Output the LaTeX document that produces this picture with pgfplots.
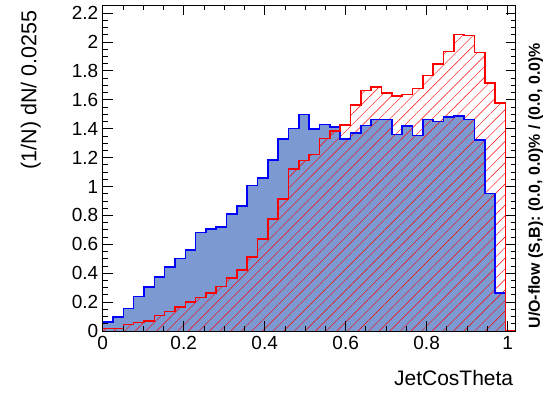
\documentclass[border=0pt]{standalone}
\usepackage{fontspec}
\setmainfont{Liberation Sans}
\usepackage{pgfplots}
\pgfplotsset{compat=1.18}
\usepackage{pgfplotstable}
\usetikzlibrary{patterns.meta}

\definecolor{sigfill}{HTML}{7D99D1}
\definecolor{sigline}{HTML}{0000FF}
\definecolor{bkgline}{HTML}{FF0000}

% Normalised JetCosTheta distributions, 40 bins of width 0.0255 (left edges)
\pgfplotstableread{
x      sig    bkg
0.0000 0.062  0.016
0.0255 0.097  0.016
0.0510 0.157  0.044
0.0765 0.240  0.058
0.1020 0.305  0.069
0.1275 0.372  0.108
0.1530 0.445  0.136
0.1785 0.502  0.166
0.2040 0.559  0.200
0.2295 0.683  0.231
0.2550 0.707  0.261
0.2805 0.718  0.308
0.3060 0.810  0.367
0.3315 0.867  0.424
0.3570 1.008  0.512
0.3825 1.058  0.638
0.4080 1.182  0.774
0.4335 1.327  0.915
0.4590 1.400  1.120
0.4845 1.497  1.180
0.5100 1.396  1.222
0.5355 1.430  1.332
0.5610 1.413  1.382
0.5865 1.327  1.426
0.6120 1.371  1.564
0.6375 1.422  1.663
0.6630 1.464  1.689
0.6885 1.464  1.647
0.7140 1.361  1.628
0.7395 1.418  1.637
0.7650 1.354  1.677
0.7905 1.464  1.769
0.8160 1.451  1.848
0.8415 1.480  1.934
0.8670 1.487  2.051
0.8925 1.464  2.046
0.9180 1.320  1.928
0.9435 0.952  1.715
0.9690 0.265  1.579
0.9945 0.000  0.000
1.0200 0.000  0.000
}\histdata

\begin{document}
\begin{tikzpicture}
\path[use as bounding box] (-102.7pt,-61pt) rectangle (440.3pt,331pt);
\begin{axis}[
  at={(0,0)}, anchor=south west,
  scale only axis, width=413pt, height=326pt,
  xmin=0, xmax=1.02, ymin=0, ymax=2.256,
  xtick={0,0.2,0.4,0.6,0.8,1},
  ytick={0,0.2,0.4,0.6,0.8,1,1.2,1.4,1.6,1.8,2,2.2},
  minor x tick num=3, minor y tick num=3,
  tick align=inside, xtick pos=both, ytick pos=both,
  major tick length=10pt, minor tick length=5pt,
  axis line style={line width=0.8pt},
  every tick/.style={black, line width=0.8pt},
  /pgf/number format/assume math mode=true,
  ticklabel style={font=\fontsize{19}{19}\selectfont},
  xticklabel style={yshift=-2pt},
  yticklabel style={xshift=-1pt},
  axis on top,
]
\addplot[const plot, draw=none, fill=sigfill] table[x=x, y=sig] {\histdata} \closedcycle;
\addplot[const plot, draw=none,
  pattern={Lines[angle=45, distance=7.5pt, line width=0.45pt]}, pattern color=bkgline]
  table[x=x, y=bkg] {\histdata} \closedcycle;
\addplot[const plot, color=sigline, line width=1.6pt] table[x=x, y=sig] {\histdata};
\addplot[const plot, color=bkgline, line width=1.6pt] table[x=x, y=bkg] {\histdata};
\end{axis}
\node[rotate=90, anchor=east, font=\fontsize{21.5}{21.5}\selectfont] at (-72pt,324pt) {(1/N) dN/ 0.0255};
\node[anchor=east, font=\fontsize{21}{21}\selectfont] at (414pt,-47pt) {JetCosTheta};
\node[rotate=90, anchor=west, font=\fontsize{15.9}{15.9}\selectfont\bfseries] at (433pt,-1pt)
  {U/O-flow (S,B): (0.0, 0.0)\% / (0.0, 0.0)\%};
\end{tikzpicture}
\end{document}
